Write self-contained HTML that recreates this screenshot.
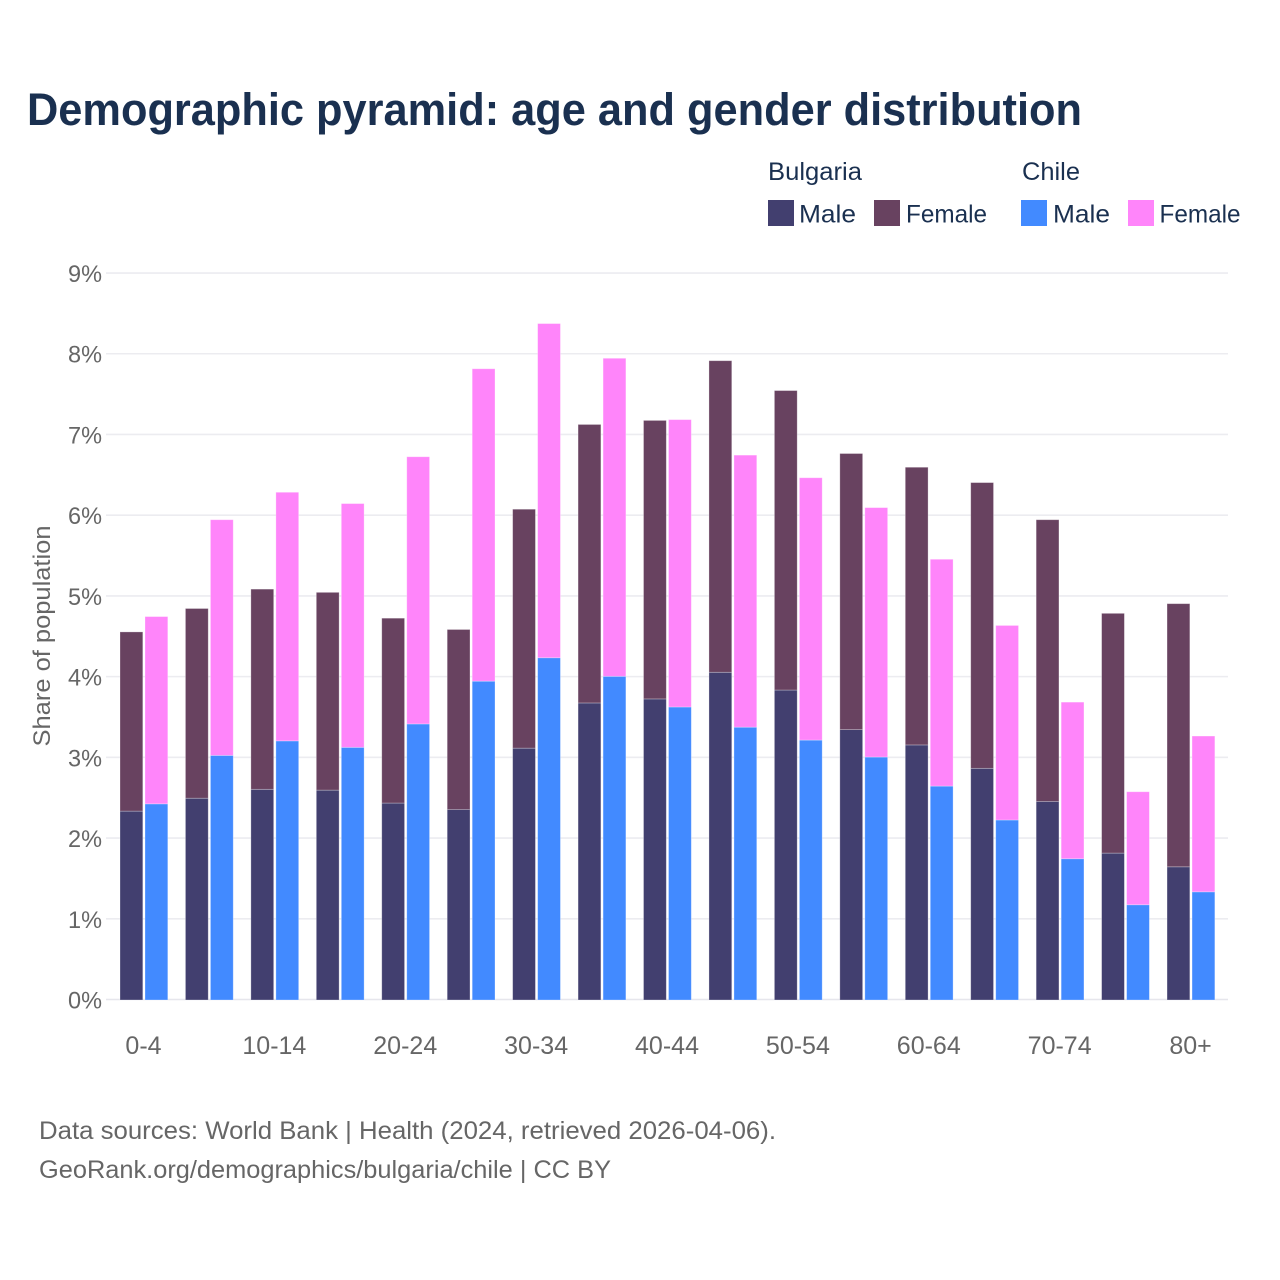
<!DOCTYPE html>
<html lang="en">
<head>
<meta charset="utf-8">
<title>Demographic pyramid: age and gender distribution</title>
<style>
  html, body { margin: 0; padding: 0; background: #fff; }
  svg { display: block; }
  text { font-family: "Liberation Sans", sans-serif; }
</style>
</head>
<body>
<svg id="chart" xmlns="http://www.w3.org/2000/svg" width="1280" height="1280" viewBox="0 0 1280 1280">
  <rect x="0" y="0" width="1280" height="1280" fill="#ffffff"/>
  <text x="27" y="125" font-size="45" font-weight="700" fill="#1a3050" textLength="1055" lengthAdjust="spacingAndGlyphs">Demographic pyramid: age and gender distribution</text>

  <g font-size="25" fill="#1a3050">
    <text x="768" y="180" textLength="94" lengthAdjust="spacingAndGlyphs">Bulgaria</text>
    <text x="1022" y="180" textLength="58" lengthAdjust="spacingAndGlyphs">Chile</text>
    <rect x="768" y="200" width="26" height="26" fill="#423f6f"/>
    <text x="799" y="222.5" textLength="57" lengthAdjust="spacingAndGlyphs">Male</text>
    <rect x="874" y="200" width="26" height="26" fill="#684260"/>
    <text x="906" y="222.5" textLength="81" lengthAdjust="spacingAndGlyphs">Female</text>
    <rect x="1021" y="200" width="26" height="26" fill="#428aff"/>
    <text x="1053" y="222.5" textLength="57" lengthAdjust="spacingAndGlyphs">Male</text>
    <rect x="1128" y="200" width="26" height="26" fill="#ff85fa"/>
    <text x="1159.5" y="222.5" textLength="81" lengthAdjust="spacingAndGlyphs">Female</text>
  </g>

  <g id="grid"></g>
  <g id="bars"></g>
  <g id="y-ticks"></g>
  <g id="x-ticks"></g>

  <text transform="translate(50,636) rotate(-90)" text-anchor="middle" font-size="24" fill="#666666" textLength="221" lengthAdjust="spacingAndGlyphs">Share of population</text>

  <text x="39" y="1139" font-size="25" fill="#666666" textLength="737" lengthAdjust="spacingAndGlyphs">Data sources: World Bank | Health (2024, retrieved 2026-04-06).</text>
  <text x="39" y="1178" font-size="25" fill="#666666" textLength="572" lengthAdjust="spacingAndGlyphs">GeoRank.org/demographics/bulgaria/chile | CC BY</text>
</svg>

<script>
const ageGroups = ["0-4","5-9","10-14","15-19","20-24","25-29","30-34","35-39","40-44","45-49","50-54","55-59","60-64","65-69","70-74","75-79","80+"];
const xTickLabels = ["0-4","10-14","20-24","30-34","40-44","50-54","60-64","70-74","80+"];
const yTickValues = [0,1,2,3,4,5,6,7,8,9];
const bulgariaMale = [2.34,2.50,2.61,2.60,2.44,2.36,3.12,3.68,3.73,4.06,3.84,3.35,3.16,2.87,2.46,1.82,1.65];
const bulgariaFemale = [2.22,2.35,2.48,2.45,2.29,2.23,2.96,3.45,3.45,3.86,3.71,3.42,3.44,3.54,3.49,2.97,3.26];
const chileMale = [2.43,3.03,3.21,3.13,3.42,3.95,4.24,4.01,3.63,3.38,3.22,3.01,2.65,2.23,1.75,1.18,1.34];
const chileFemale = [2.32,2.92,3.08,3.02,3.31,3.87,4.14,3.94,3.56,3.37,3.25,3.09,2.81,2.41,1.94,1.40,1.93];

const SVG_NS = "http://www.w3.org/2000/svg";
const plotLeft = 106, plotRight = 1228, baseY = 999.5, pxPerUnit = 80.72;
const barBaseY = 1000;
const firstGroupX = 120, groupStep = 65.44, barWidth = 22.8, barGap = 25;

function yScale(v) { return baseY - v * pxPerUnit; }
function barScale(v) { return barBaseY - v * pxPerUnit; }
function groupX(i) { return firstGroupX + i * groupStep; }

function makeBar(parent, x, v0, v1, fill) {
  const r = document.createElementNS(SVG_NS, "rect");
  r.setAttribute("x", x);
  r.setAttribute("y", barScale(v1));
  r.setAttribute("width", barWidth);
  r.setAttribute("height", barScale(v0) - barScale(v1));
  r.setAttribute("fill", fill);
  r.setAttribute("stroke", "#ffffff");
  r.setAttribute("stroke-opacity", "0.35");
  r.setAttribute("stroke-width", "0.8");
  parent.appendChild(r);
  return r;
}

const grid = document.getElementById("grid");
const yTicks = document.getElementById("y-ticks");
yTickValues.forEach(function (v) {
  const line = document.createElementNS(SVG_NS, "line");
  
  
  line.setAttribute("x1", plotLeft);
  line.setAttribute("x2", plotRight);
  line.setAttribute("y1", yScale(v));
  line.setAttribute("y2", yScale(v));
  line.setAttribute("stroke", v === 0 ? "#e6e6ec" : "#ececf0");
  line.setAttribute("stroke-width", "1.6");
  grid.appendChild(line);

  const t = document.createElementNS(SVG_NS, "text");
  
  
  t.setAttribute("x", 102);
  t.setAttribute("y", yScale(v) + 9);
  t.setAttribute("text-anchor", "end");
  t.setAttribute("font-size", "24");
  t.setAttribute("fill", "#666666");
  t.setAttribute("textLength", "34");
  t.setAttribute("lengthAdjust", "spacingAndGlyphs");
  t.textContent = v + "%";
  yTicks.appendChild(t);
});

const bars = document.getElementById("bars");
ageGroups.forEach(function (age, i) {
  const x = groupX(i);
  const a = makeBar(bars, x, 0, bulgariaMale[i], "#423f6f");
  
  
  const b = makeBar(bars, x, bulgariaMale[i], bulgariaMale[i] + bulgariaFemale[i], "#684260");
  
  
  const c = makeBar(bars, x + barGap, 0, chileMale[i], "#428aff");
  
  
  const d = makeBar(bars, x + barGap, chileMale[i], chileMale[i] + chileFemale[i], "#ff85fa");
  
  
});

const xTicks = document.getElementById("x-ticks");
xTickLabels.forEach(function (label) {
  const i = ageGroups.indexOf(label);
  const t = document.createElementNS(SVG_NS, "text");
  
  
  t.setAttribute("x", groupX(i) + (barGap + barWidth) / 2 - 0.4);
  t.setAttribute("y", 1054);
  t.setAttribute("text-anchor", "middle");
  t.setAttribute("font-size", "25");
  t.setAttribute("fill", "#666666");
  t.textContent = label;
  xTicks.appendChild(t);
});
</script>
</body>
</html>
